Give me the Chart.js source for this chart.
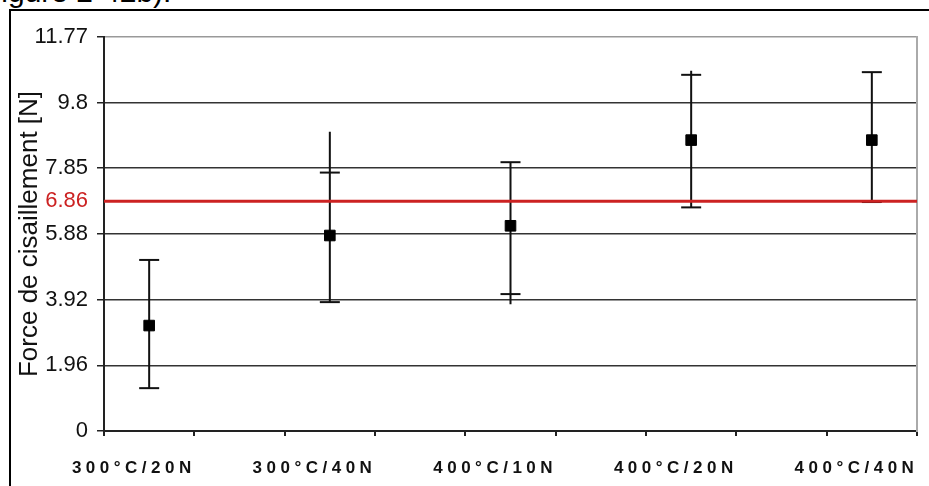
<!DOCTYPE html>
<html>
<head>
<meta charset="utf-8">
<script src="https://cdn.jsdelivr.net/npm/chart.js@4.4.1/dist/chart.umd.min.js"></script>
<style>
  html, body { margin: 0; padding: 0; background: #fff; overflow: hidden; }
  #wrap { position: relative; width: 929px; height: 486px; overflow: hidden; }
  #caption { position: absolute; left: -27px; top: -25px; font: 30px "Liberation Sans", Arial, sans-serif; color: #000; white-space: nowrap; }
  #frame { position: absolute; left: 9px; top: 9px; width: 960px; height: 520px; border: 2px solid #000; }
  #chart { position: absolute; left: 0; top: 0; }
</style>
</head>
<body>
<div id="wrap">
  <div id="caption">(Figure 2-42b).</div>
  <div id="frame"></div>
  <canvas id="chart" width="929" height="486"></canvas>
</div>
<script>
const categories = ['300°C/20N', '300°C/40N', '400°C/10N', '400°C/20N', '400°C/40N'];
const means = [3.15, 5.84, 6.13, 8.69, 8.69];
const capHigh = [5.11, 7.72, 8.03, 10.64, 10.72];
const capLow = [1.28, 3.85, 4.09, 6.68, 6.84];
const barTop = [5.11, 8.94, 8.03, 10.76, 10.72];
const barBottom = [1.28, 3.85, 3.79, 6.68, 6.84];
const yTicks = [0, 1.96, 3.92, 5.88, 6.86, 7.85, 9.8, 11.77];
const limitValue = 6.86;

const RED = '#cc2222';

// category i sits in the middle of every second tick interval
function xOf(i) { return 2 * i + 0.5; }

const pointData = means.map((v, i) => ({ x: xOf(i), y: v }));
const capData = [];
capHigh.forEach((v, i) => capData.push({ x: xOf(i), y: v }));
capLow.forEach((v, i) => capData.push({ x: xOf(i), y: v }));
const whiskerData = [];
barTop.forEach((v, i) => {
    whiskerData.push({ x: xOf(i), y: barBottom[i] });
    whiskerData.push({ x: xOf(i), y: v });
    whiskerData.push({ x: xOf(i), y: null });
});

// letter-spaced category labels like the original
const spacedLabels = {
    id: 'spacedLabels',
    afterLayout(chart) {
        const sc = chart.scales.xl;
        if (!sc || sc._spaced) return;
        const draw = sc.drawLabels;
        sc.drawLabels = function(area) {
            this.ctx.save();
            this.ctx.letterSpacing = '4.5px';
            draw.call(this, area);
            this.ctx.restore();
        };
        sc._spaced = true;
    }
};

new Chart(document.getElementById('chart'), {
    type: 'scatter',
    data: {
        datasets: [
            {
                type: 'line',
                label: 'limit',
                data: [{ x: 0, y: limitValue }, { x: 9, y: limitValue }],
                borderColor: RED,
                borderWidth: 3,
                pointRadius: 0,
                order: 0
            },
            {
                label: 'mean',
                data: pointData,
                pointStyle: 'rect',
                pointRadius: 7.5,
                backgroundColor: '#000',
                borderColor: '#000',
                borderWidth: 1,
                order: 1
            },
            {
                type: 'line',
                label: 'whisker',
                data: whiskerData,
                borderColor: '#111',
                borderWidth: 2,
                pointRadius: 0,
                spanGaps: false,
                order: 2
            },
            {
                label: 'cap',
                data: capData,
                pointStyle: 'line',
                pointRadius: 10,
                borderColor: '#111',
                borderWidth: 2,
                order: 2
            }
        ]
    },
    options: {
        responsive: false,
        devicePixelRatio: 1,
        animation: false,
        layout: { padding: { left: 12, top: 37, right: 11, bottom: 0 } },
        plugins: {
            legend: { display: false },
            tooltip: { enabled: false }
        },
        scales: {
            x: {
                type: 'linear',
                position: 'bottom',
                weight: 0,
                min: 0,
                max: 9,
                afterBuildTicks: function(scale) {
                    scale.ticks = [0, 1, 2, 3, 4, 5, 6, 7, 8, 9].map(v => ({ value: v }));
                },
                afterFit: function(scale) { scale.height = 5; },
                ticks: { callback: () => '' },
                grid: { drawOnChartArea: false, drawTicks: true, tickLength: 5, color: '#222', lineWidth: 2 },
                border: { color: '#222', width: 2 }
            },
            xl: {
                type: 'linear',
                position: 'bottom',
                weight: 1,
                min: 0,
                max: 9,
                afterBuildTicks: function(scale) {
                    scale.ticks = categories.map((c, i) => ({ value: xOf(i) - 0.17 }));
                },
                afterFit: function(scale) { scale.height = 50; },
                ticks: {
                    autoSkip: false,
                    maxRotation: 0,
                    padding: 22,
                    color: '#111',
                    font: { family: '"Liberation Sans Narrow", "Liberation Sans", Arial', size: 17, weight: 'bold' },
                    callback: (v, i) => categories[i]
                },
                grid: { display: false, drawTicks: false },
                border: { display: false }
            },
            y: {
                min: 0,
                max: 11.77,
                afterBuildTicks: function(scale) {
                    scale.ticks = yTicks.map(v => ({ value: v }));
                },
                afterFit: function(scale) { scale.width = 92; },
                ticks: {
                    padding: 9,
                    color: ctx => ctx.tick.value === limitValue ? RED : '#111',
                    font: { family: '"Liberation Sans", Arial', size: 22 },
                    callback: v => String(v)
                },
                grid: {
                    tickLength: 7,
                    lineWidth: 1.5,
                    color: ctx => {
                        if (ctx.tick.value === limitValue) return 'rgba(0,0,0,0)';
                        if (ctx.tick.value === 11.77) return '#999';
                        return '#333';
                    },
                    tickColor: ctx => ctx.tick.value === limitValue ? 'rgba(0,0,0,0)' : '#222'
                },
                border: { color: '#222', width: 2 },
                title: {
                    display: true,
                    text: 'Force de cisaillement [N]',
                    color: '#111',
                    font: { family: '"Liberation Sans", Arial', size: 26 },
                    padding: { top: 2, bottom: 0 }
                }
            },
            yr: {
                position: 'right',
                min: 0,
                max: 11.77,
                afterFit: function(scale) { scale.width = 0; },
                ticks: { display: false },
                grid: { display: false, drawTicks: false },
                border: { color: '#aaa', width: 2 }
            }
        }
    },
    plugins: [spacedLabels]
});
</script>
</body>
</html>
